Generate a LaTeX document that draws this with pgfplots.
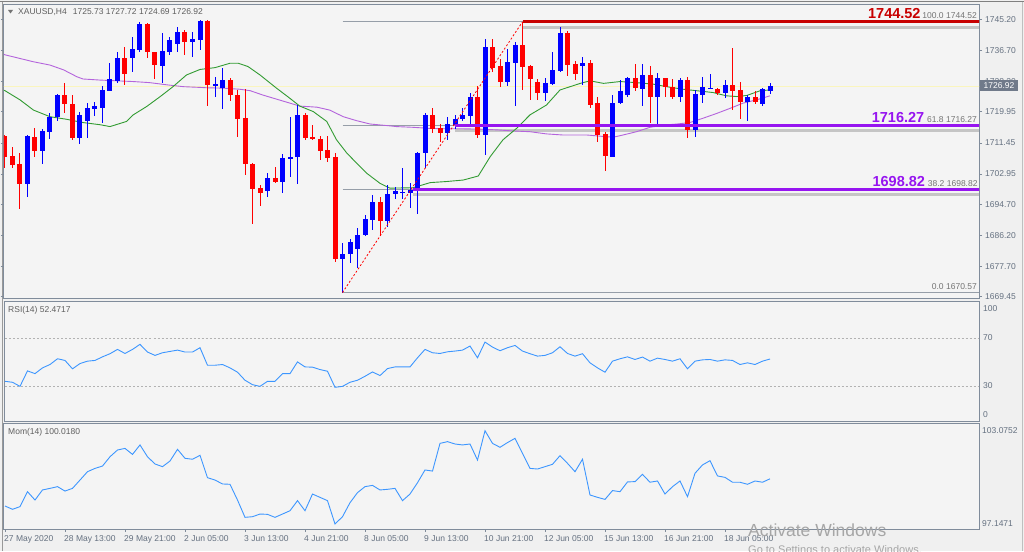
\documentclass[border=0pt]{standalone}
\usepackage{pgfplots}
\pgfplotsset{compat=1.18}
\usepackage{pgfplotstable}
\usepackage{fontspec}
\setmainfont{Liberation Sans}

\definecolor{panelbg}{RGB}{244,244,244}
\definecolor{outerbg}{RGB}{240,240,240}
\definecolor{frame}{RGB}{128,140,155}
\definecolor{lbl}{RGB}{100,112,128}
\definecolor{hdr}{RGB}{95,95,95}
\definecolor{bull}{RGB}{0,0,255}
\definecolor{bear}{RGB}{255,0,0}
\definecolor{magreen}{RGB}{50,155,50}
\definecolor{mapurple}{RGB}{180,100,220}
\definecolor{fibred}{RGB}{200,0,0}
\definecolor{fibpurple}{RGB}{150,20,240}
\definecolor{fibgray}{RGB}{150,158,168}
\definecolor{indblue}{RGB}{60,150,255}
\definecolor{pricebox}{RGB}{112,122,138}
\definecolor{curline}{RGB}{250,245,190}

\newcommand{\sm}{\fontsize{8.5}{9}\selectfont}
\newcommand{\bg}{\fontsize{14.5}{15}\selectfont\bfseries}

\pgfplotstableread{
i o h l c
0 1713.2 1713.6 1704.5 1707.7
1 1707.9 1710.4 1704.5 1705.4
2 1705.7 1708.8 1693.4 1700.2
4 1713.2 1715.6 1707.7 1709.3
8 1724.4 1727.7 1719.5 1722.0
9 1722.1 1724.4 1712.1 1712.7
16 1734.6 1737.6 1727.3 1730.3
19 1743.8 1744.1 1734.7 1736.2
20 1736.2 1736.4 1728.8 1732.7
24 1741.8 1742.3 1735.5 1738.9
27 1744.8 1745.0 1721.4 1727.3
30 1728.6 1729.1 1723.0 1724.5
31 1724.5 1725.9 1713.0 1717.9
32 1718.2 1726.1 1702.7 1705.6
33 1705.7 1705.9 1689.3 1698.9
34 1699.1 1700.0 1694.1 1697.9
36 1701.8 1705.0 1700.6 1700.9
40 1719.1 1719.7 1712.3 1712.7
41 1713.2 1716.2 1712.3 1712.5
42 1712.4 1713.3 1706.8 1709.3
43 1709.5 1713.4 1706.3 1707.3
44 1707.5 1708.8 1679.0 1679.7
50 1695.2 1696.8 1685.9 1690.0
57 1719.1 1720.9 1714.1 1715.2
58 1715.4 1716.6 1711.8 1714.1
63 1723.9 1727.0 1712.7 1713.6
65 1737.7 1739.7 1730.9 1732.0
66 1732.5 1734.3 1726.8 1728.0
69 1738.2 1744.52 1725.9 1732.1
70 1732.5 1732.7 1723.2 1728.8
71 1728.2 1728.8 1723.2 1725.2
75 1741.6 1742.0 1729.7 1732.7
76 1732.9 1733.8 1728.6 1730.2
78 1733.4 1734.1 1720.9 1721.8
79 1722.3 1724.1 1711.8 1713.6
80 1713.9 1714.5 1703.9 1707.9
84 1729.3 1732.9 1725.5 1726.4
86 1730.0 1732.5 1716.8 1723.9
88 1729.3 1729.3 1723.9 1726.8
89 1726.6 1728.9 1723.4 1724.1
91 1728.6 1729.5 1712.7 1715.0
95 1726.2 1726.4 1724.4 1725.0
97 1727.3 1737.5 1720.4 1725.6
98 1725.9 1728.2 1718.0 1722.7
100 1724.1 1725.7 1722.1 1722.7
}\bears

\pgfplotstableread{
i o h l c
3 1700.2 1713.6 1696.6 1713.3
5 1709.1 1715.2 1705.6 1714.7
6 1714.5 1719.7 1712.4 1718.6
7 1718.6 1724.8 1717.3 1724.4
10 1712.7 1720.0 1711.2 1719.1
11 1717.3 1722.3 1712.7 1720.9
12 1720.6 1722.7 1718.8 1721.4
13 1721.1 1727.0 1716.8 1725.9
14 1725.7 1733.2 1725.5 1728.8
15 1728.4 1736.2 1727.7 1734.6
17 1734.7 1740.5 1730.9 1737.1
18 1736.8 1744.6 1736.4 1743.8
21 1732.5 1741.4 1727.7 1736.6
22 1736.4 1740.5 1735.5 1739.6
23 1738.6 1743.2 1736.4 1741.8
25 1739.1 1741.8 1734.8 1739.7
26 1739.6 1745.0 1736.8 1744.8
28 1727.0 1729.4 1723.9 1727.5
29 1726.4 1731.8 1720.6 1728.6
35 1698.2 1703.2 1696.8 1701.8
37 1700.9 1708.4 1697.9 1707.3
38 1707.1 1718.4 1702.2 1707.5
39 1707.5 1721.8 1700.2 1719.1
45 1679.7 1684.0 1670.57 1681.1
46 1681.0 1685.1 1678.6 1684.3
47 1682.4 1688.1 1677.2 1686.3
48 1686.3 1691.8 1686.0 1690.7
49 1690.4 1697.2 1687.7 1695.2
51 1690.0 1700.0 1688.6 1697.5
52 1697.4 1699.5 1696.1 1698.3
53 1697.9 1704.7 1696.1 1698.1
54 1697.9 1700.4 1693.6 1698.6
55 1699.1 1709.1 1692.1 1708.8
56 1708.6 1719.7 1704.5 1719.1
59 1714.1 1718.6 1712.3 1716.6
60 1716.4 1719.1 1715.2 1718.0
61 1717.9 1720.9 1717.5 1719.1
62 1718.9 1725.0 1716.4 1723.9
64 1713.6 1739.7 1708.2 1737.7
67 1728.0 1737.0 1727.0 1733.6
68 1733.4 1739.1 1721.4 1738.2
72 1725.2 1729.1 1723.0 1727.7
73 1727.5 1736.4 1727.3 1731.4
74 1731.1 1743.2 1730.9 1741.6
77 1732.5 1735.0 1727.3 1733.4
81 1707.7 1724.4 1707.5 1722.3
82 1722.3 1728.6 1722.1 1725.5
83 1724.5 1729.5 1723.9 1729.3
85 1726.2 1732.9 1721.6 1730.0
87 1723.9 1730.6 1716.4 1729.3
90 1724.1 1729.3 1722.7 1728.6
92 1715.0 1725.9 1713.0 1724.7
93 1724.5 1729.4 1722.3 1726.6
94 1726.2 1730.3 1726.1 1726.5
96 1725.2 1728.6 1723.6 1727.3
99 1722.5 1724.5 1717.5 1724.1
101 1722.1 1726.4 1721.4 1726.1
102 1725.73 1727.72 1724.69 1726.92
}\bulls

\newcommand{\candles}[2]{%
  \addplot[draw=none, mark=none, forget plot,
    error bars/.cd, y dir=both, y explicit, error mark=none,
    error bar style={draw=#2, line width=1pt}]
    table[x=i, y expr={(\thisrow{h}+\thisrow{l})/2},
          y error expr={(\thisrow{h}-\thisrow{l})/2}] {#1};
  \addplot[draw=none, mark=none, forget plot,
    error bars/.cd, y dir=both, y explicit, error mark=none,
    error bar style={draw=#2, line width=5pt}]
    table[x=i, y expr={(\thisrow{o}+\thisrow{c})/2},
          y error expr={max(abs(\thisrow{c}-\thisrow{o})/2,0.15)}] {#1};
}

\pgfplotsset{
  panel/.style={
    scale only axis, width=975pt,
    xmin=-0.133, xmax=129.867,
    axis background/.style={fill=panelbg},
    axis line style={draw=frame, line width=1pt},
    tick label style={font=\sm, text=lbl},
    tick style={draw=frame, line width=0.6pt},
    yticklabel pos=right,
    xtick=\empty,
  }
}

\begin{document}
\begin{tikzpicture}
\path[use as bounding box] (0pt,0pt) rectangle (1024pt,551pt);
\fill[outerbg] (0pt,0pt) rectangle (1024pt,551pt);
\draw[black!50, line width=1pt] (0pt,549pt) -- (1024pt,549pt);
\draw[black!40, line width=1pt] (2pt,0pt) -- (2pt,549pt);
\draw[black!25, line width=1pt] (1022pt,0pt) -- (1022pt,549pt);

% ================= MAIN PRICE PANEL =================
\begin{axis}[panel, at={(4pt,252pt)}, anchor=south west, height=295pt,
  ymin=1668.81, ymax=1749.38,
  ytick={1669.45,1677.70,1686.20,1694.70,1702.95,1711.45,1719.95,1728.20,1736.70,1745.20},
  yticklabels={1669.45,1677.70,1686.20,1694.70,1702.95,1711.45,1719.95,1728.20,1736.70,1745.20},
  tick align=outside, major tick length=3pt,
  y tick label style={anchor=west, inner sep=0pt, xshift=3pt},
]
\addplot[curline, line width=0.8pt, forget plot] coordinates {(-1,1726.92) (131,1726.92)};
\addplot[fibgray, line width=1pt, forget plot] coordinates {(45,1744.52) (131,1744.52)};
\addplot[fibgray, line width=1pt, forget plot] coordinates {(45,1716.27) (131,1716.27)};
\addplot[fibgray, line width=1pt, forget plot] coordinates {(45,1698.82) (131,1698.82)};
\addplot[fibgray, line width=1pt, forget plot] coordinates {(45,1670.57) (131,1670.57)};
\addplot[black!45, opacity=0.45, line width=3pt, forget plot] coordinates {(69,1743.0) (131,1743.0)};
\addplot[black!45, opacity=0.45, line width=3pt, forget plot] coordinates {(60,1714.75) (131,1714.75)};
\addplot[black!45, opacity=0.45, line width=3pt, forget plot] coordinates {(54.4,1697.3) (131,1697.3)};
\addplot[mapurple, line width=0.9pt] coordinates {
(-1,1736.4) (0,1735.5) (2,1734.5) (3.8,1733.6) (6,1732.7) (7.8,1731.4) (9.6,1729.5) (10.4,1728.9)
(12.7,1728.6) (14.9,1728.4) (17.1,1728.2) (19.3,1727.9) (21.6,1727.3) (23.8,1726.8) (26,1726.6)
(26.9,1726.5) (29.1,1726.4) (31.3,1726.1) (32.7,1725.7) (34.4,1724.5) (36.2,1723.4) (38,1722.3)
(39.3,1721.5) (41.6,1721.2) (43.3,1720.4) (45.1,1718.6) (46.9,1717.5) (48.7,1716.6) (51.3,1716.1)
(52.2,1715.9) (54.4,1715.7) (56.7,1715.4) (58.9,1715.3) (61.1,1715.3) (63.3,1715.2) (65.6,1715.0)
(67.8,1714.7) (70,1714.5) (72.2,1713.9) (74.4,1713.6) (76.7,1713.6) (77.6,1713.6) (79.8,1713.2)
(81.1,1713.0) (82.4,1713.6) (84.2,1714.5) (86.0,1715.7) (87.8,1716.3) (89.6,1716.6) (91.3,1717.0)
(93.1,1718.2) (94.9,1719.5) (96.7,1720.9) (98.4,1722.3) (100.2,1723.2) (102,1724.3)};
\addplot[magreen, line width=0.9pt] coordinates {
(-1,1726.5) (0,1725.7) (2,1723.2) (3.8,1720.4) (6,1718.6) (8.2,1717.9) (10.4,1717.0) (12.7,1716.4)
(14,1715.9) (16.2,1717.3) (17.1,1719.1) (18.9,1721.4) (20.7,1724.1) (22.4,1726.8) (24.2,1730.0)
(26,1731.5) (28,1732.0) (30,1733.2) (31.1,1733.2) (32.4,1732.3) (34,1730.0) (36.2,1726.4)
(38,1723.6) (39.3,1721.5) (41.1,1720.0) (42.9,1717.3) (44.2,1712.3) (45.6,1708.6) (46.9,1705.9)
(48.2,1703.2) (50,1700.4) (51.3,1699.1) (51.8,1699.1) (54.4,1699.2) (56.7,1700.6) (58.9,1700.9)
(61.1,1701.3) (63.1,1702.4) (64.7,1707.7) (66.4,1712.3) (68.2,1715.4) (70,1719.1) (72.2,1721.8)
(74,1725.9) (76.7,1727.7) (78,1728.4) (79.8,1727.7) (82,1728.2) (84.2,1727.9) (86.4,1727.5)
(88.2,1726.8) (90.4,1726.1) (92.2,1725.7) (94.4,1725.2) (96.2,1724.3) (97.6,1724.1) (98.9,1724.4)
(100.7,1725.7) (102,1725.9)};
\candles{\bears}{bear}
\candles{\bulls}{bull}
\addplot[fibred, line width=3pt, forget plot] coordinates {(69,1744.52) (131,1744.52)};
\addplot[fibpurple, line width=3pt, forget plot] coordinates {(60,1716.27) (131,1716.27)};
\addplot[fibpurple, line width=3pt, forget plot] coordinates {(54.4,1698.82) (131,1698.82)};
\addplot[bear, line width=0.8pt, dash pattern=on 2pt off 2pt, forget plot] coordinates {(45,1670.57) (69,1744.52)};
\node[anchor=base east, inner sep=0pt, font=\sm, text=black!55, yshift=3.5pt] (fa) at (axis cs:129.6,1744.52) {100.0 1744.52};
\node[anchor=base east, inner sep=0pt, font=\bg, text=fibred] at ([xshift=-1.5pt]fa.base west) {1744.52};
\node[anchor=base east, inner sep=0pt, font=\sm, text=black!55, yshift=3pt] (fb) at (axis cs:129.6,1716.27) {61.8 1716.27};
\node[anchor=base east, inner sep=0pt, font=\bg, text=fibpurple] at ([xshift=-2.5pt]fb.base west) {1716.27};
\node[anchor=base east, inner sep=0pt, font=\sm, text=black!55, yshift=3pt] (fd) at (axis cs:129.7,1698.82) {38.2 1698.82};
\node[anchor=base east, inner sep=0pt, font=\bg, text=fibpurple] at ([xshift=-2.5pt]fd.base west) {1698.82};
\node[anchor=base east, inner sep=0pt, font=\sm, text=black!55, yshift=3pt] at (axis cs:129.6,1670.57) {0.0 1670.57};
\end{axis}

% ================= RSI PANEL =================
\begin{axis}[panel, at={(4pt,129pt)}, anchor=south west, height=120pt,
  ymin=0, ymax=100,
  ytick={5.8,30,70,94.2}, yticklabels={0,30,70,100},
  major tick length=0pt,
  y tick label style={anchor=west, inner sep=0pt, xshift=4pt},
]
\addplot[black!30, line width=0.6pt, dash pattern=on 2pt off 2pt, forget plot] coordinates {(-1,70) (131,70)};
\addplot[black!30, line width=0.6pt, dash pattern=on 2pt off 2pt, forget plot] coordinates {(-1,30) (131,30)};
\addplot[indblue, line width=0.9pt] coordinates {
(0,33.9) (1,33.1) (2,29.7) (3,42.6) (4,40.3) (5,45.1) (6,47.9) (7,52.7) (8,51.3) (9,44.3)
(10,48.7) (11,50.7) (12,51.3) (13,54.3) (14,56.9) (15,60.5) (16,57.1) (17,60.5) (18,64.7) (19,58.3)
(20,55.5) (21,57.7) (22,58.8) (23,59.9) (24,58.3) (25,58.3) (26,61.9) (27,47.3) (28,47.3) (29,47.9)
(30,45.1) (31,41.5) (32,34.8) (33,31.1) (34,29.7) (35,33.9) (36,33.9) (37,40.3) (38,40.3) (39,50.1)
(40,45.9) (41,45.7) (42,43.7) (43,42.3) (44,28.9) (45,29.7) (46,33.1) (47,34.8) (48,38.1) (49,41.7)
(50,38.7) (51,44.5) (52,45.9) (53,45.9) (54,45.9) (55,53.5) (56,60.5) (57,57.7) (58,57.1) (59,58.5)
(60,59.1) (61,59.9) (62,63.3) (63,53.5) (64,66.6) (65,62.4) (66,59.4) (67,61.9) (68,63.8) (69,59.1)
(70,56.9) (71,54.9) (72,55.5) (73,57.7) (74,62.7) (75,57.1) (76,54.9) (77,56.9) (78,49.3) (79,45.1)
(80,41.5) (81,50.7) (82,52.7) (83,54.3) (84,52.1) (85,54.1) (86,50.7) (87,53.2) (88,52.1) (89,50.7)
(90,52.7) (91,44.3) (92,50.7) (93,51.8) (94,52.1) (95,50.7) (96,51.8) (97,51.3) (98,47.9) (99,49.3)
(100,47.9) (101,50.7) (102,52.47)};
\end{axis}

% ================= MOMENTUM PANEL =================
\begin{axis}[panel, at={(4pt,22pt)}, anchor=south west, height=105pt,
  ymin=96.829, ymax=103.501,
  ytick={97.1471,103.0752}, yticklabels={97.1471,103.0752},
  ytick style={draw=none},
  y tick label style={anchor=west, inner sep=0pt, xshift=3pt},
  xtick={0,8,16,24,32,40,48,56,64,72,80,88,96},
  xticklabels={27 May 2020,28 May 13:00,29 May 21:00,2 Jun 05:00,3 Jun 13:00,4 Jun 21:00,8 Jun 05:00,9 Jun 13:00,10 Jun 21:00,12 Jun 05:00,15 Jun 13:00,16 Jun 21:00,18 Jun 05:00},
  xtick pos=bottom, xtick align=outside, major tick length=3pt,
  x tick label style={anchor=north west, inner sep=0pt, xshift=-1pt, yshift=-3pt},
]
\addplot[indblue, line width=0.9pt] coordinates {
(0,98.29) (1,98.08) (2,98.25) (3,99.20) (4,98.67) (5,99.31) (6,99.41) (7,99.52) (8,99.24) (9,99.41)
(10,99.94) (11,100.47) (12,100.68) (13,100.83) (14,101.42) (15,101.85) (16,101.95) (17,101.57) (18,102.17) (19,101.42)
(20,100.96) (21,100.79) (22,101.15) (23,101.89) (24,101.32) (25,101.26) (26,101.51) (27,100.09) (28,99.94) (29,99.69)
(30,99.67) (31,98.67) (32,97.57) (33,97.61) (34,97.78) (35,97.76) (36,97.57) (37,97.78) (38,97.99) (39,98.63)
(40,97.99) (41,99.05) (42,98.84) (43,98.63) (44,97.1471) (45,97.61) (46,98.50) (47,99.14) (48,99.52) (49,99.60)
(50,99.31) (51,99.35) (52,99.41) (53,98.63) (54,99.05) (55,99.77) (56,100.58) (57,100.51) (58,102.27) (59,102.38)
(60,102.23) (61,102.17) (62,102.23) (63,101.21) (64,103.0752) (65,102.27) (66,102.02) (67,102.32) (68,102.59) (69,101.64)
(70,100.68) (71,100.64) (72,100.79) (73,100.94) (74,101.49) (75,101.00) (76,100.47) (77,101.26) (78,98.99) (79,98.84)
(80,98.71) (81,99.27) (82,99.20) (83,99.82) (84,99.84) (85,100.30) (86,99.80) (87,99.88) (88,99.05) (89,99.52)
(90,99.88) (91,98.88) (92,100.37) (93,100.90) (94,101.17) (95,100.20) (96,100.11) (97,99.80) (98,99.80) (99,99.67)
(100,99.88) (101,99.80) (102,100.018)};
\end{axis}

% ================= TEXTS =================
\fill[black!55] (8pt,541pt) -- (13pt,541pt) -- (10.5pt,537.5pt) -- cycle;
\node[anchor=base west, inner sep=0pt, font=\sm, text=hdr] at (18pt,536pt) {XAUUSD,H4\hspace{6pt}1725.73 1727.72 1724.69 1726.92};
\node[anchor=base west, inner sep=0pt, font=\sm, text=hdr] at (8pt,238pt) {RSI(14) 52.4717};
\node[anchor=base west, inner sep=0pt, font=\sm, text=hdr] at (8pt,116pt) {Mom(14) 100.0180};
\node[anchor=west, fill=pricebox, text=white, font=\sm, inner xsep=3.5pt, inner ysep=0pt, minimum height=11pt] at (980pt,465pt) {1726.92};
\node[anchor=base west, inner sep=0pt, text=black!35, font=\fontsize{17.5}{18}\selectfont] at (748pt,14.5pt) {Activate Windows};
\node[anchor=base west, inner sep=0pt, text=black!35, font=\fontsize{11}{12}\selectfont] at (748pt,-2pt) {Go to Settings to activate Windows.};
\end{tikzpicture}
\end{document}
